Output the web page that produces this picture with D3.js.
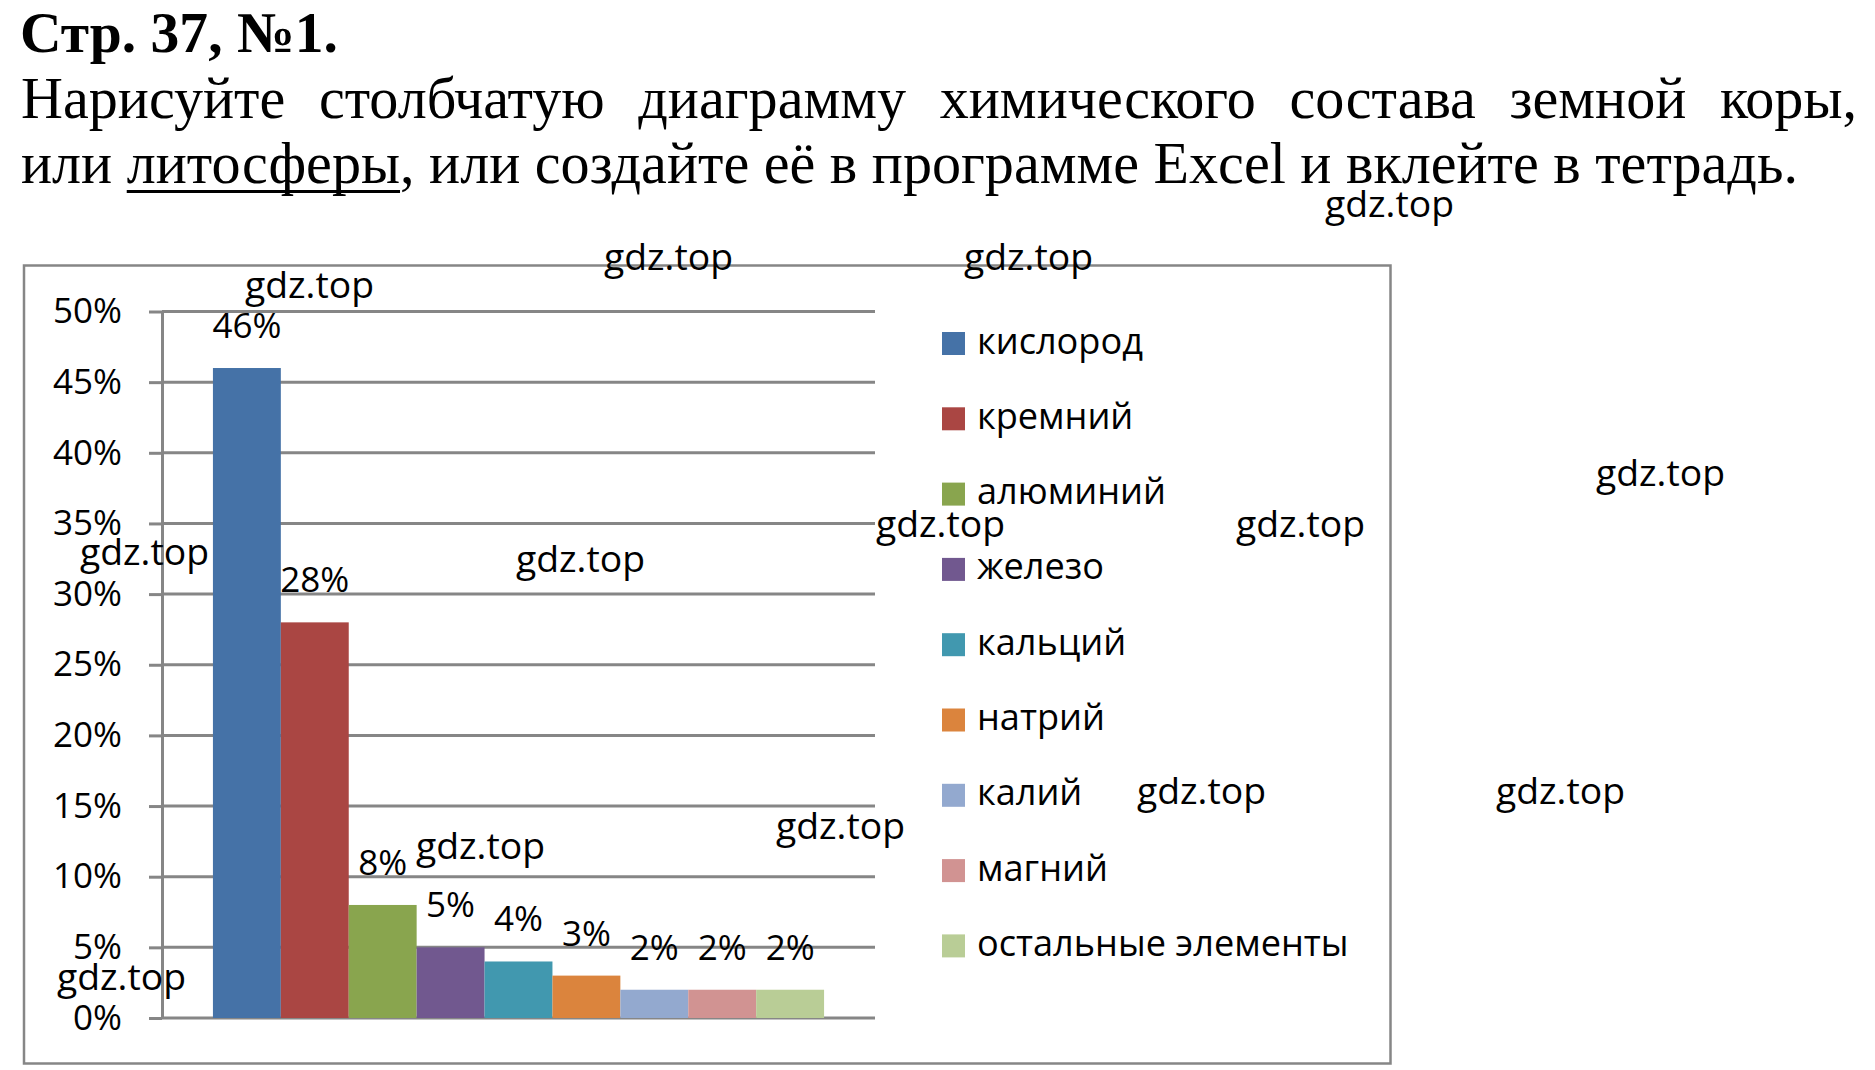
<!DOCTYPE html>
<html><head><meta charset="utf-8">
<script src="https://cdn.jsdelivr.net/npm/d3@7"></script>
<style>html,body{margin:0;padding:0;background:#fff;} svg{display:block;}</style>
</head><body>
<svg id="c" width="1875" height="1070"></svg>
<script>
// ---- data ----
const categories = ["кислород","кремний","алюминий","железо","кальций","натрий","калий","магний","остальные элементы"];
const values = [0.46, 0.28, 0.08, 0.05, 0.04, 0.03, 0.02, 0.02, 0.02];
const colors = ["#4572A7","#AA4643","#89A54E","#71588F","#4198AF","#DB843D","#93A9CF","#D19392","#B9CD96"];
const yTicks = [0, 0.05, 0.10, 0.15, 0.20, 0.25, 0.30, 0.35, 0.40, 0.45, 0.50];
const titleText = "Стр. 37, №1.";
const line2Words = ["Нарисуйте","столбчатую","диаграмму","химического","состава","земной","коры,"];
const line3Parts = ["или ", "литосферы", ", или создайте её в программе Excel и вклейте в тетрадь."];
const watermarkText = "gdz.top";
const watermarkSpots = [[1325,217],[604,270],[964,270],[245,298],[1596,486],[876,537],[1236,537],[80,565],[516,572],[1137,804],[1496,804],[776,839],[416,859],[57,990]];

const svg = d3.select("#c");
const SANS = "'Open Sans', 'DejaVu Sans', sans-serif";
const SERIF = "'Liberation Serif', 'Times New Roman', serif";
const GRID = "#868686";

function fit(sel, target){
  const w = sel.node().getComputedTextLength();
  const fs = parseFloat(sel.attr("font-size"));
  const nf = fs * target / w;
  sel.attr("font-size", nf);
  return nf;
}

// ---- chart frame ----
svg.append("rect").attr("x",24).attr("y",265.5).attr("width",1366.5).attr("height",798)
  .attr("fill","none").attr("stroke",GRID).attr("stroke-width",2.5);

const plot = {left:162, right:875, top:311.5, bottom:1018};
const y = d3.scaleLinear().domain([0,0.5]).range([plot.bottom, plot.top]);
const x = d3.scaleBand().domain(categories).range([plot.left, plot.right]).paddingInner(0).paddingOuter(0.75);

// gridlines
svg.append("g").selectAll("line").data(yTicks).join("line")
  .attr("x1",plot.left).attr("x2",plot.right)
  .attr("y1",d=>y(d)).attr("y2",d=>y(d))
  .attr("stroke",GRID).attr("stroke-width",3);

// axis
const ax = svg.append("g").attr("transform",`translate(${plot.left},0)`)
  .call(d3.axisLeft(y).tickValues(yTicks).tickFormat(d3.format(".0%")).tickSizeInner(13).tickSizeOuter(0).tickPadding(27));
ax.select(".domain").attr("stroke",GRID).attr("stroke-width",3);
ax.selectAll(".tick line").attr("stroke",GRID).attr("stroke-width",3);
ax.selectAll(".tick text").attr("font-family",SANS).attr("font-size",35).attr("fill","#000");

// bars
svg.append("g").selectAll("rect").data(categories).join("rect")
  .attr("x",d=>x(d)).attr("width",x.bandwidth())
  .attr("y",(d,i)=>y(values[i])).attr("height",(d,i)=>y(0)-y(values[i]))
  .attr("fill",(d,i)=>colors[i]);

// value labels
svg.append("g").selectAll("text").data(categories).join("text")
  .attr("x",d=>x(d)+x.bandwidth()/2).attr("y",(d,i)=>y(values[i])-30)
  .attr("text-anchor","middle").attr("font-family",SANS).attr("font-size",35).attr("fill","#000")
  .text((d,i)=>d3.format(".0%")(values[i]));

// legend
const lg = svg.append("g");
const legY = i => 343.5 + i*75.3;
lg.selectAll("rect").data(categories).join("rect")
  .attr("x",942).attr("y",(d,i)=>legY(i)-11.5).attr("width",23).attr("height",23)
  .attr("fill",(d,i)=>colors[i]);
const legT = lg.selectAll("text").data(categories).join("text")
  .attr("x",977).attr("y",(d,i)=>legY(i)+10)
  .attr("font-family",SANS).attr("font-size",36).attr("fill","#000").text(d=>d);
const lfs = fit(d3.select(legT.nodes()[0]), 166);
legT.attr("font-size", lfs);

// ---- heading texts ----
const t1 = svg.append("text").attr("x",20).attr("y",52).attr("font-family",SERIF)
  .attr("font-weight","bold").attr("font-size",54).attr("fill","#000").text(titleText);
fit(t1, 318);

// line 3 (natural width)
const t3 = svg.append("text").attr("x",21).attr("y",183).attr("font-family",SERIF)
  .attr("font-size",54).attr("fill","#000");
t3.selectAll("tspan").data(line3Parts).join("tspan").text(d=>d);
const bodyFs = fit(t3, 1777);
const uStart = t3.node().getStartPositionOfChar(line3Parts[0].length).x;
const uLen = t3.node().getSubStringLength(line3Parts[0].length, line3Parts[1].length);
svg.append("line").attr("x1",uStart).attr("x2",uStart+uLen).attr("y1",191.5).attr("y2",191.5)
  .attr("stroke","#000").attr("stroke-width",3);

// line 2 justified
const wordsG = svg.append("g");
const wt = wordsG.selectAll("text").data(line2Words).join("text")
  .attr("y",118).attr("font-family",SERIF).attr("font-size",bodyFs).attr("fill","#000").text(d=>d);
const widths = wt.nodes().map(n=>n.getComputedTextLength());
const totalW = d3.sum(widths);
const gap = (1857 - 21 - totalW)/(line2Words.length-1);
let cx = 21;
wt.each(function(d,i){ d3.select(this).attr("x",cx); cx += widths[i] + gap; });

// ---- watermarks ----
const wm = svg.append("g").selectAll("text").data(watermarkSpots).join("text")
  .attr("x",d=>d[0]).attr("y",d=>d[1]).attr("font-family",SANS).attr("font-size",36).attr("fill","#000")
  .text(watermarkText);
const wfs = fit(d3.select(wm.nodes()[0]), 129);
wm.attr("font-size", wfs);
</script></body></html>
